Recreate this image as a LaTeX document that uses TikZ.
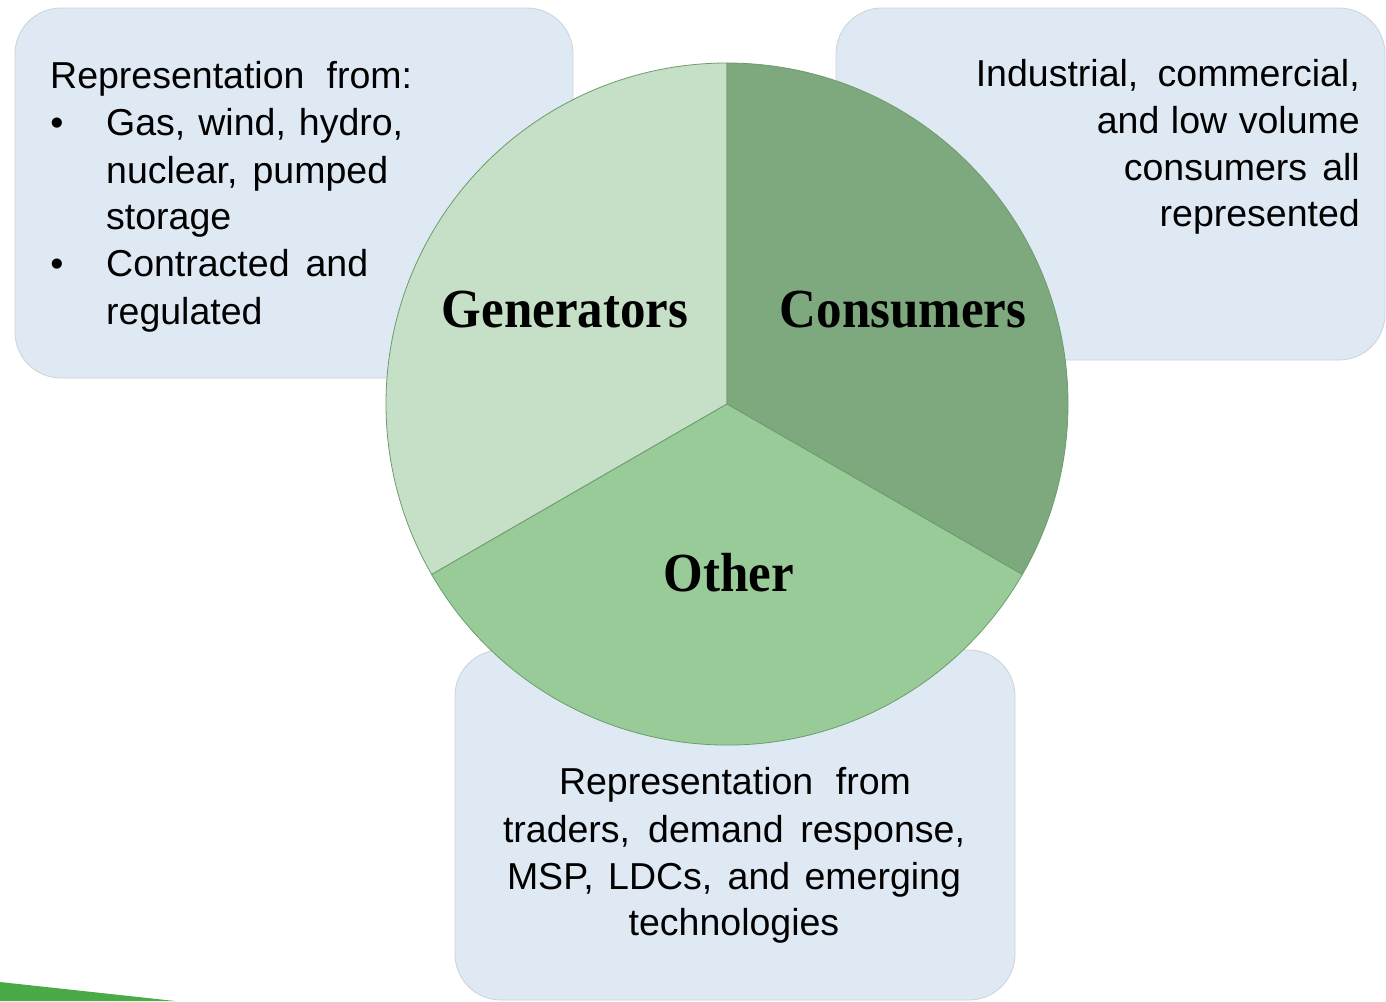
\documentclass[tikz,border=0pt]{standalone}
\usepackage{fontspec}
\setmainfont{Liberation Sans}
\newfontfamily\pieserif{Liberation Serif}
\definecolor{boxblue}{RGB}{223,233,244}
\definecolor{boxedge}{RGB}{205,210,216}
\definecolor{genfill}{RGB}{197,224,198}
\definecolor{confill}{RGB}{126,168,126}
\definecolor{othfill}{RGB}{153,203,153}
\definecolor{pieedge}{RGB}{108,156,108}
\definecolor{barfill}{RGB}{74,170,69}
\tikzset{
  infobox/.style={fill=boxblue, draw=boxedge, line width=0.8pt, rounded corners=46pt},
  wedge/.style={draw=pieedge, line width=0.8pt},
  txt/.style={inner sep=0pt, font=\fontsize{37.5}{47}\selectfont},
  pielabel/.style={inner sep=0pt, font=\pieserif\bfseries\fontsize{51}{60}\selectfont},
}
\begin{document}
\begin{tikzpicture}[x=1pt,y=-1pt]
\path[use as bounding box] (0,0) rectangle (1386,1001);
\fill[white] (0,0) rectangle (1386,1001);
\fill[barfill] (0,982) -- (175,1001) -- (0,1001) -- cycle;
% boxes
\draw[infobox] (15,8) rectangle (573,378);
\draw[infobox] (836,8) rectangle (1385,360);
\draw[infobox] (455,650) rectangle (1015,1000);
% pie
\coordinate (C) at (727,404);
\begin{scope}[shift={(727,404)}, x=1pt, y=1pt]
  \filldraw[wedge, fill=genfill] (0,0) -- (90:341) arc[start angle=90, end angle=210, radius=341] -- cycle;
  \filldraw[wedge, fill=confill] (0,0) -- (90:341) arc[start angle=90, end angle=-30, radius=341] -- cycle;
  \filldraw[wedge, fill=othfill] (0,0) -- (210:341) arc[start angle=210, end angle=330, radius=341] -- cycle;
\end{scope}
\node[pielabel, anchor=base] (gen) at (565,327) {\scalebox{1}[1.08]{Generators}};
\node[pielabel, anchor=base] (con) at (903,327) {\scalebox{1}[1.08]{Consumers}};
\node[pielabel, anchor=base] (oth) at (729,591) {\scalebox{1}[1.08]{Other}};
% left box text
\node[txt, anchor=base west] (l1) at (50,88) {\makebox[362pt][s]{Representation from:}};
\node[txt, anchor=base] (b1) at (57,135) {•};
\node[txt, anchor=base west] (l2) at (106,135) {\makebox[297pt][s]{Gas, wind, hydro,}};
\node[txt, anchor=base west] (l3) at (106,183) {\makebox[282pt][s]{nuclear, pumped}};
\node[txt, anchor=base west] (l4) at (106,229) {storage};
\node[txt, anchor=base] (b2) at (57,276) {•};
\node[txt, anchor=base west] (l5) at (106,276) {\makebox[262pt][s]{Contracted and}};
\node[txt, anchor=base west] (l6) at (106,324) {regulated};
% right box text
\node[txt, anchor=base east] (r1) at (1360,86) {\makebox[384pt][s]{Industrial, commercial,}};
\node[txt, anchor=base east] (r2) at (1360,133) {\makebox[263pt][s]{and low volume}};
\node[txt, anchor=base east] (r3) at (1360,180) {\makebox[236pt][s]{consumers all}};
\node[txt, anchor=base east] (r4) at (1360,226) {represented};
% bottom box text
\node[txt, anchor=base] (m1) at (735,794) {\makebox[352pt][s]{Representation from}};
\node[txt, anchor=base] (m2) at (734,842) {\makebox[462pt][s]{traders, demand response,}};
\node[txt, anchor=base] (m3) at (734,889) {\makebox[454pt][s]{MSP, LDCs, and emerging}};
\node[txt, anchor=base] (m4) at (734,935) {technologies};
\end{tikzpicture}
\end{document}
